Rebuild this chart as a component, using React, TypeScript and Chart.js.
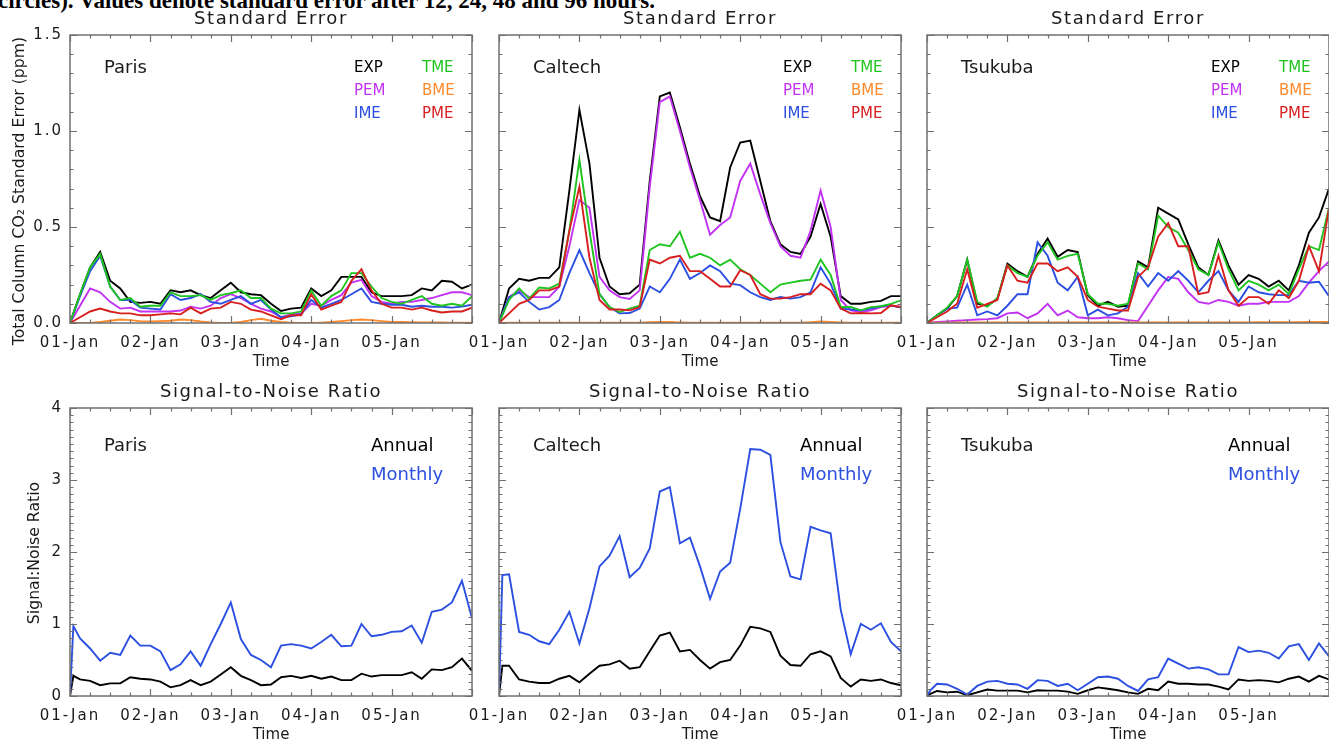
import React, { useEffect, useRef } from "react";
import { Chart, registerables } from "chart.js";

Chart.register(...registerables);

// ---------------- data ----------------
const seHours = [0, 3, 6, 9, 12, 15, 18, 21, 24, 27, 30, 33, 36, 39, 42, 45, 48, 51, 54, 57, 60, 63, 66, 69, 72, 75, 78, 81, 84, 87, 90, 93, 96, 99, 102, 105, 108, 111, 114, 117, 120];
const snrHours = [0, 1, 3, 6, 9, 12, 15, 18, 21, 24, 27, 30, 33, 36, 39, 42, 45, 48, 51, 54, 57, 60, 63, 66, 69, 72, 75, 78, 81, 84, 87, 90, 93, 96, 99, 102, 105, 108, 111, 114, 117, 120];
const dayLabels = ["01-Jan", "02-Jan", "03-Jan", "04-Jan", "05-Jan"];

const parisEXP = [0, 0.15, 0.29, 0.37, 0.22, 0.18, 0.11, 0.105, 0.11, 0.10, 0.17, 0.16, 0.17, 0.145, 0.13, 0.17, 0.21, 0.16, 0.15, 0.145, 0.10, 0.063, 0.075, 0.08, 0.18, 0.14, 0.17, 0.24, 0.24, 0.24, 0.16, 0.14, 0.14, 0.14, 0.145, 0.18, 0.17, 0.22, 0.215, 0.18, 0.2];
const parisPEM = [0, 0.09, 0.18, 0.16, 0.11, 0.075, 0.08, 0.06, 0.06, 0.06, 0.06, 0.065, 0.085, 0.075, 0.09, 0.13, 0.15, 0.13, 0.10, 0.075, 0.06, 0.03, 0.045, 0.05, 0.10, 0.09, 0.12, 0.145, 0.21, 0.225, 0.14, 0.11, 0.10, 0.11, 0.11, 0.12, 0.13, 0.145, 0.16, 0.16, 0.145];
const parisIME = [0, 0.14, 0.27, 0.35, 0.19, 0.12, 0.12, 0.08, 0.075, 0.07, 0.15, 0.12, 0.13, 0.15, 0.11, 0.10, 0.12, 0.14, 0.10, 0.12, 0.07, 0.03, 0.035, 0.045, 0.12, 0.08, 0.10, 0.12, 0.15, 0.18, 0.11, 0.10, 0.095, 0.095, 0.085, 0.09, 0.085, 0.085, 0.08, 0.085, 0.095];
const parisTME = [0, 0.15, 0.29, 0.36, 0.19, 0.12, 0.13, 0.085, 0.09, 0.09, 0.16, 0.14, 0.14, 0.145, 0.12, 0.145, 0.155, 0.17, 0.13, 0.13, 0.075, 0.05, 0.05, 0.06, 0.17, 0.09, 0.14, 0.17, 0.26, 0.26, 0.19, 0.13, 0.11, 0.10, 0.12, 0.14, 0.10, 0.09, 0.10, 0.09, 0.14];
const parisBME = [0, 0, 0, 0.005, 0.012, 0.018, 0.015, 0.01, 0.008, 0.01, 0.012, 0.018, 0.015, 0.008, 0.003, 0, 0, 0.005, 0.015, 0.022, 0.012, 0.005, 0.002, 0, 0, 0.002, 0.005, 0.01, 0.015, 0.018, 0.015, 0.01, 0.006, 0.005, 0.004, 0.003, 0.003, 0.003, 0.002, 0.002, 0.002];
const parisPME = [0, 0.03, 0.06, 0.075, 0.06, 0.05, 0.05, 0.04, 0.04, 0.045, 0.05, 0.045, 0.08, 0.05, 0.075, 0.08, 0.11, 0.10, 0.07, 0.06, 0.04, 0.02, 0.04, 0.04, 0.15, 0.07, 0.09, 0.11, 0.22, 0.28, 0.17, 0.10, 0.08, 0.08, 0.07, 0.08, 0.065, 0.055, 0.06, 0.06, 0.08];

const caltechEXP = [0, 0.18, 0.23, 0.22, 0.235, 0.235, 0.29, 0.69, 1.11, 0.83, 0.34, 0.19, 0.15, 0.155, 0.2, 0.74, 1.18, 1.2, 1.02, 0.83, 0.66, 0.55, 0.53, 0.81, 0.94, 0.95, 0.74, 0.53, 0.41, 0.37, 0.36, 0.45, 0.62, 0.45, 0.14, 0.1, 0.1, 0.11, 0.115, 0.14, 0.14];
const caltechPEM = [0, 0.135, 0.17, 0.135, 0.135, 0.135, 0.19, 0.40, 0.64, 0.6, 0.24, 0.17, 0.135, 0.125, 0.17, 0.71, 1.15, 1.18, 1.0, 0.81, 0.64, 0.46, 0.51, 0.55, 0.74, 0.83, 0.67, 0.52, 0.4, 0.35, 0.34, 0.48, 0.69, 0.5, 0.12, 0.066, 0.057, 0.066, 0.083, 0.09, 0.083];
const caltechIME = [0, 0.135, 0.16, 0.11, 0.07, 0.083, 0.12, 0.26, 0.38, 0.26, 0.15, 0.083, 0.05, 0.052, 0.075, 0.19, 0.16, 0.23, 0.33, 0.23, 0.26, 0.30, 0.27, 0.205, 0.197, 0.16, 0.135, 0.12, 0.135, 0.127, 0.135, 0.16, 0.29, 0.205, 0.075, 0.07, 0.066, 0.075, 0.087, 0.092, 0.08];
const caltechTME = [0, 0.12, 0.18, 0.127, 0.185, 0.18, 0.205, 0.48, 0.85, 0.48, 0.15, 0.083, 0.057, 0.075, 0.09, 0.38, 0.41, 0.40, 0.475, 0.34, 0.36, 0.34, 0.30, 0.33, 0.28, 0.25, 0.205, 0.16, 0.2, 0.21, 0.22, 0.226, 0.33, 0.25, 0.083, 0.083, 0.066, 0.083, 0.087, 0.1, 0.118];
const caltechBME = [0, 0.001, 0.001, 0.001, 0.001, 0.001, 0.001, 0.002, 0.002, 0.002, 0.001, 0.001, 0.001, 0.001, 0.002, 0.004, 0.006, 0.005, 0.003, 0.002, 0.001, 0.001, 0.001, 0.001, 0.002, 0.002, 0.002, 0.001, 0.001, 0.001, 0.002, 0.004, 0.008, 0.006, 0.003, 0.001, 0.001, 0.001, 0.001, 0.001, 0.001];
const caltechPME = [0, 0.05, 0.1, 0.12, 0.17, 0.17, 0.19, 0.48, 0.71, 0.34, 0.12, 0.07, 0.07, 0.066, 0.083, 0.33, 0.31, 0.34, 0.35, 0.27, 0.27, 0.23, 0.19, 0.19, 0.275, 0.25, 0.15, 0.127, 0.127, 0.135, 0.15, 0.15, 0.205, 0.17, 0.075, 0.05, 0.052, 0.05, 0.052, 0.092, 0.083];

const tsukubaEXP = [0, 0.04, 0.075, 0.14, 0.33, 0.10, 0.09, 0.125, 0.31, 0.27, 0.24, 0.36, 0.44, 0.345, 0.38, 0.37, 0.145, 0.09, 0.11, 0.085, 0.09, 0.32, 0.29, 0.6, 0.57, 0.54, 0.41, 0.29, 0.25, 0.43, 0.3, 0.2, 0.25, 0.23, 0.19, 0.22, 0.17, 0.30, 0.47, 0.55, 0.70];
const tsukubaPEM = [0, 0.005, 0.008, 0.012, 0.015, 0.018, 0.02, 0.025, 0.05, 0.055, 0.025, 0.05, 0.1, 0.04, 0.065, 0.03, 0.025, 0.025, 0.03, 0.025, 0.015, 0.01, 0.09, 0.17, 0.24, 0.23, 0.16, 0.11, 0.1, 0.12, 0.11, 0.09, 0.1, 0.1, 0.11, 0.11, 0.11, 0.14, 0.21, 0.27, 0.32];
const tsukubaIME = [0, 0.04, 0.075, 0.08, 0.2, 0.04, 0.06, 0.04, 0.09, 0.15, 0.15, 0.42, 0.35, 0.21, 0.17, 0.24, 0.04, 0.07, 0.04, 0.05, 0.085, 0.26, 0.19, 0.26, 0.22, 0.27, 0.22, 0.16, 0.22, 0.27, 0.17, 0.11, 0.19, 0.16, 0.15, 0.145, 0.145, 0.22, 0.21, 0.215, 0.14];
const tsukubaTME = [0, 0.04, 0.08, 0.14, 0.33, 0.11, 0.085, 0.13, 0.30, 0.26, 0.24, 0.35, 0.42, 0.33, 0.35, 0.36, 0.15, 0.1, 0.1, 0.09, 0.1, 0.31, 0.28, 0.56, 0.5, 0.47, 0.38, 0.28, 0.25, 0.42, 0.28, 0.17, 0.22, 0.2, 0.17, 0.2, 0.15, 0.28, 0.4, 0.38, 0.6];
const tsukubaBME = [0, 0.002, 0.002, 0.003, 0.003, 0.003, 0.003, 0.003, 0.003, 0.003, 0.003, 0.003, 0.003, 0.003, 0.003, 0.003, 0.003, 0.003, 0.003, 0.003, 0.003, 0.003, 0.003, 0.003, 0.003, 0.003, 0.003, 0.003, 0.003, 0.003, 0.003, 0.003, 0.003, 0.004, 0.004, 0.004, 0.004, 0.004, 0.005, 0.005, 0.005];
const tsukubaPME = [0, 0.03, 0.06, 0.1, 0.28, 0.08, 0.1, 0.12, 0.3, 0.22, 0.21, 0.31, 0.31, 0.27, 0.29, 0.24, 0.12, 0.085, 0.075, 0.065, 0.065, 0.24, 0.29, 0.45, 0.52, 0.4, 0.4, 0.15, 0.16, 0.35, 0.17, 0.09, 0.135, 0.135, 0.1, 0.17, 0.13, 0.22, 0.4, 0.27, 0.6];

const parisAnnual = [0, 0.28, 0.23, 0.21, 0.15, 0.175, 0.175, 0.26, 0.24, 0.23, 0.2, 0.12, 0.15, 0.22, 0.15, 0.2, 0.3, 0.4, 0.28, 0.22, 0.15, 0.16, 0.26, 0.28, 0.25, 0.28, 0.24, 0.27, 0.22, 0.22, 0.31, 0.27, 0.29, 0.29, 0.29, 0.33, 0.24, 0.37, 0.36, 0.4, 0.52, 0.35];
const parisMonthly = [0, 0.97, 0.8, 0.66, 0.49, 0.6, 0.57, 0.84, 0.7, 0.7, 0.62, 0.36, 0.44, 0.62, 0.42, 0.72, 1.0, 1.3, 0.79, 0.57, 0.5, 0.4, 0.7, 0.72, 0.7, 0.66, 0.75, 0.85, 0.69, 0.7, 1.0, 0.83, 0.85, 0.89, 0.9, 0.98, 0.74, 1.17, 1.2, 1.3, 1.6, 1.08];
const caltechAnnual = [0, 0.42, 0.42, 0.23, 0.2, 0.18, 0.18, 0.24, 0.28, 0.19, 0.31, 0.42, 0.44, 0.49, 0.38, 0.4, 0.62, 0.84, 0.88, 0.62, 0.64, 0.5, 0.38, 0.47, 0.5, 0.7, 0.96, 0.94, 0.89, 0.56, 0.43, 0.42, 0.58, 0.62, 0.55, 0.25, 0.13, 0.23, 0.21, 0.23, 0.18, 0.15];
const caltechMonthly = [0, 1.68, 1.69, 0.89, 0.85, 0.76, 0.72, 0.92, 1.17, 0.73, 1.22, 1.8, 1.95, 2.22, 1.65, 1.78, 2.05, 2.84, 2.9, 2.12, 2.2, 1.8, 1.35, 1.73, 1.85, 2.6, 3.43, 3.42, 3.35, 2.14, 1.66, 1.62, 2.35, 2.3, 2.26, 1.2, 0.58, 1.0, 0.92, 1.01, 0.75, 0.62];
const tsukubaAnnual = [0, 0.03, 0.07, 0.05, 0.06, 0.01, 0.05, 0.09, 0.075, 0.075, 0.075, 0.05, 0.08, 0.075, 0.075, 0.06, 0.03, 0.08, 0.12, 0.1, 0.08, 0.05, 0.03, 0.1, 0.08, 0.2, 0.17, 0.17, 0.16, 0.16, 0.13, 0.09, 0.23, 0.21, 0.22, 0.21, 0.19, 0.24, 0.27, 0.2, 0.28, 0.23];
const tsukubaMonthly = [0, 0.08, 0.17, 0.16, 0.1, 0.02, 0.14, 0.2, 0.21, 0.17, 0.16, 0.1, 0.22, 0.21, 0.14, 0.17, 0.08, 0.17, 0.26, 0.27, 0.24, 0.14, 0.07, 0.23, 0.26, 0.52, 0.45, 0.38, 0.4, 0.37, 0.3, 0.3, 0.68, 0.61, 0.63, 0.6, 0.52, 0.69, 0.72, 0.5, 0.73, 0.55];

const seNames = ["EXP", "PEM", "IME", "TME", "BME", "PME"];
const snrNames = ["Annual", "Monthly"];

// ---------------- styles ----------------
const COLORS: Record<string, string> = {
  EXP: "#000000",
  PEM: "#c232f2",
  IME: "#2b4fe0",
  TME: "#20c420",
  BME: "#ff8a2c",
  PME: "#d81f1f",
  Annual: "#000000",
  Monthly: "#2b4fe0",
};
const DRAW_ORDER: Record<string, number> = { EXP: 6, PEM: 5, IME: 4, TME: 3, BME: 2, PME: 1, Annual: 2, Monthly: 1 };
const FONT = '"DejaVu Sans", sans-serif';
const TEXT = "#1a1a1a";
const FRAME = "#707070";

const PLOT_W = 402;
const PLOT_H = 288;
const PAD_L = 70;
const PAD_T = 35;
const PAD_R = 30;
const PAD_B = 50;
const COL_X = [70, 499, 927];
const ROW_Y = [35, 408];

type PanelCfg = {
  kind: "se" | "snr";
  station: string;
  col: number;
  row: number;
  hours: number[];
  series: Record<string, number[]>;
};

const panels: PanelCfg[] = [
  { kind: "se", station: "Paris", col: 0, row: 0, hours: seHours, series: { EXP: parisEXP, PEM: parisPEM, IME: parisIME, TME: parisTME, BME: parisBME, PME: parisPME } },
  { kind: "se", station: "Caltech", col: 1, row: 0, hours: seHours, series: { EXP: caltechEXP, PEM: caltechPEM, IME: caltechIME, TME: caltechTME, BME: caltechBME, PME: caltechPME } },
  { kind: "se", station: "Tsukuba", col: 2, row: 0, hours: seHours, series: { EXP: tsukubaEXP, PEM: tsukubaPEM, IME: tsukubaIME, TME: tsukubaTME, BME: tsukubaBME, PME: tsukubaPME } },
  { kind: "snr", station: "Paris", col: 0, row: 1, hours: snrHours, series: { Annual: parisAnnual, Monthly: parisMonthly } },
  { kind: "snr", station: "Caltech", col: 1, row: 1, hours: snrHours, series: { Annual: caltechAnnual, Monthly: caltechMonthly } },
  { kind: "snr", station: "Tsukuba", col: 2, row: 1, hours: snrHours, series: { Annual: tsukubaAnnual, Monthly: tsukubaMonthly } },
];

function isMajorY(kind: string, v: number) {
  const f = kind === "se" ? 2 : 1;
  return Math.abs(v * f - Math.round(v * f)) < 1e-6;
}

// widen x tick labels (drawn before datasets), y labels drawn after with normal spacing
const spacingPlugin = {
  id: "spacing",
  beforeDraw(chart: any) {
    chart.ctx.letterSpacing = "2px";
  },
  beforeDatasetsDraw(chart: any) {
    chart.ctx.letterSpacing = "0px";
  },
};

function makeDecor(cfg: PanelCfg) {
  return {
    id: "decor",
    afterDraw(chart: any) {
      const { ctx, chartArea: ca, scales } = chart;
      const xs = scales.x;
      const ys = scales.y;
      ctx.save();
      ctx.letterSpacing = "0px";
      // frame
      ctx.strokeStyle = FRAME;
      ctx.lineWidth = 1.5;
      ctx.strokeRect(ca.left, ca.top, ca.right - ca.left, ca.bottom - ca.top);
      // inward ticks
      ctx.lineWidth = 1.2;
      ctx.beginPath();
      xs.ticks.forEach((t: any) => {
        const px = Math.round(xs.getPixelForValue(t.value)) + 0.5;
        const len = t.value % 24 === 0 ? 7 : 3.5;
        ctx.moveTo(px, ca.bottom);
        ctx.lineTo(px, ca.bottom - len);
        ctx.moveTo(px, ca.top);
        ctx.lineTo(px, ca.top + len);
      });
      ys.ticks.forEach((t: any) => {
        const py = Math.round(ys.getPixelForValue(t.value)) + 0.5;
        const len = isMajorY(cfg.kind, t.value) ? 7 : 3.5;
        ctx.moveTo(ca.left, py);
        ctx.lineTo(ca.left + len, py);
        ctx.moveTo(ca.right, py);
        ctx.lineTo(ca.right - len, py);
      });
      ctx.stroke();

      const cx = (ca.left + ca.right) / 2;
      ctx.fillStyle = TEXT;
      ctx.textBaseline = "middle";

      // title
      ctx.textAlign = "center";
      ctx.font = `18px ${FONT}`;
      ctx.letterSpacing = "1.6px";
      ctx.fillText(cfg.kind === "se" ? "Standard Error" : "Signal-to-Noise Ratio", cx, ca.top - 16);
      ctx.letterSpacing = "0px";

      // x axis title
      ctx.font = `15px ${FONT}`;
      ctx.fillText("Time", cx, ca.bottom + 39);

      // station
      ctx.textAlign = "left";
      ctx.font = `18px ${FONT}`;
      ctx.fillText(cfg.station, ca.left + 34, ca.top + (cfg.kind === "se" ? 33 : 38));

      // legend texts
      if (cfg.kind === "se") {
        ctx.font = `15px ${FONT}`;
        const cols = [284, 352];
        const rows = [33.5, 56.5, 79.5];
        const layout = [
          ["EXP", 0, 0], ["TME", 1, 0],
          ["PEM", 0, 1], ["BME", 1, 1],
          ["IME", 0, 2], ["PME", 1, 2],
        ] as [string, number, number][];
        layout.forEach(([n, c, r]) => {
          ctx.fillStyle = COLORS[n];
          ctx.fillText(n, ca.left + cols[c], ca.top + rows[r]);
        });
      } else {
        ctx.font = `18px ${FONT}`;
        ctx.fillStyle = COLORS.Annual;
        ctx.fillText("Annual", ca.left + 301, ca.top + 38);
        ctx.fillStyle = COLORS.Monthly;
        ctx.fillText("Monthly", ca.left + 301, ca.top + 67);
      }

      // y axis title (first column only)
      if (cfg.col === 0) {
        ctx.fillStyle = TEXT;
        ctx.font = `15.7px ${FONT}`;
        ctx.textAlign = "center";
        ctx.save();
        if (cfg.kind === "se") {
          ctx.translate(ca.left - 50, ca.top + 156);
          ctx.rotate(-Math.PI / 2);
          ctx.fillText("Total Column CO\u2082 Standard Error (ppm)", 0, 0);
        } else {
          ctx.translate(ca.left - 35, ca.top + 145);
          ctx.rotate(-Math.PI / 2);
          ctx.fillText("Signal:Noise Ratio", 0, 0);
        }
        ctx.restore();
      }
      ctx.restore();
    },
  };
}

function Panel({ cfg }: { cfg: PanelCfg }) {
  const ref = useRef<HTMLCanvasElement | null>(null);
  const W = PAD_L + PLOT_W + PAD_R;
  const H = PAD_T + PLOT_H + PAD_B;
  useEffect(() => {
    if (!ref.current) return;
    const names = cfg.kind === "se" ? seNames : snrNames;
    const datasets = names.map((n) => ({
      label: n,
      data: cfg.hours.map((h, i) => ({ x: h, y: cfg.series[n][i] })),
      borderColor: COLORS[n],
      backgroundColor: COLORS[n],
      borderWidth: 1.9,
      pointRadius: 0,
      tension: 0,
      fill: false,
      order: DRAW_ORDER[n],
    }));
    const tickFont = { family: FONT, size: 15 };
    const chart = new Chart(ref.current, {
      type: "line",
      data: { datasets },
      options: {
        animation: false,
        responsive: false,
        maintainAspectRatio: false,
        events: [],
        layout: { padding: { left: 0, top: PAD_T, right: PAD_R, bottom: 0 }, autoPadding: false },
        plugins: { legend: { display: false }, tooltip: { enabled: false }, title: { display: false } },
        scales: {
          x: {
            type: "linear",
            min: 0,
            max: 120,
            z: 0,
            afterFit: (s: any) => { s.height = PAD_B; },
            grid: { display: false, drawTicks: false },
            border: { display: false },
            ticks: {
              stepSize: 6,
              autoSkip: false,
              maxRotation: 0,
              minRotation: 0,
              padding: 11,
              color: TEXT,
              font: tickFont,
              callback: (v: any) => (v % 24 === 0 && v < 120 ? dayLabels[v / 24] : ""),
            },
          },
          y: {
            type: "linear",
            min: 0,
            max: cfg.kind === "se" ? 1.5 : 4,
            z: 1,
            afterFit: (s: any) => { s.width = PAD_L; },
            grid: { display: false, drawTicks: false },
            border: { display: false },
            ticks: {
              stepSize: 0.1,
              autoSkip: false,
              padding: 7,
              color: TEXT,
              font: tickFont,
              callback: (v: any) => {
                if (cfg.col !== 0 || !isMajorY(cfg.kind, v)) return "";
                return cfg.kind === "se" ? Number(v).toFixed(1) : String(Math.round(v));
              },
            },
          },
        },
      } as any,
      plugins: [spacingPlugin, makeDecor(cfg)],
    });
    return () => chart.destroy();
  }, [cfg]);
  return (
    <canvas
      ref={ref}
      width={W}
      height={H}
      style={{
        position: "absolute",
        left: COL_X[cfg.col] - PAD_L,
        top: ROW_Y[cfg.row] - PAD_T,
        width: W,
        height: H,
      }}
    />
  );
}

export default function App() {
  return (
    <div
      style={{
        position: "absolute",
        left: 0,
        top: 0,
        width: 1329,
        height: 742,
        overflow: "hidden",
        background: "#ffffff",
      }}
    >
      <div
        style={{
          position: "absolute",
          left: -2,
          top: -11,
          whiteSpace: "nowrap",
          fontFamily: '"Liberation Serif", serif',
          fontWeight: "bold",
          fontSize: 23,
          lineHeight: "23px",
          color: "#000",
        }}
      >
        circles). Values denote standard error after 12, 24, 48 and 96 hours.
      </div>
      {panels.map((p, i) => (
        <Panel key={i} cfg={p} />
      ))}
    </div>
  );
}
